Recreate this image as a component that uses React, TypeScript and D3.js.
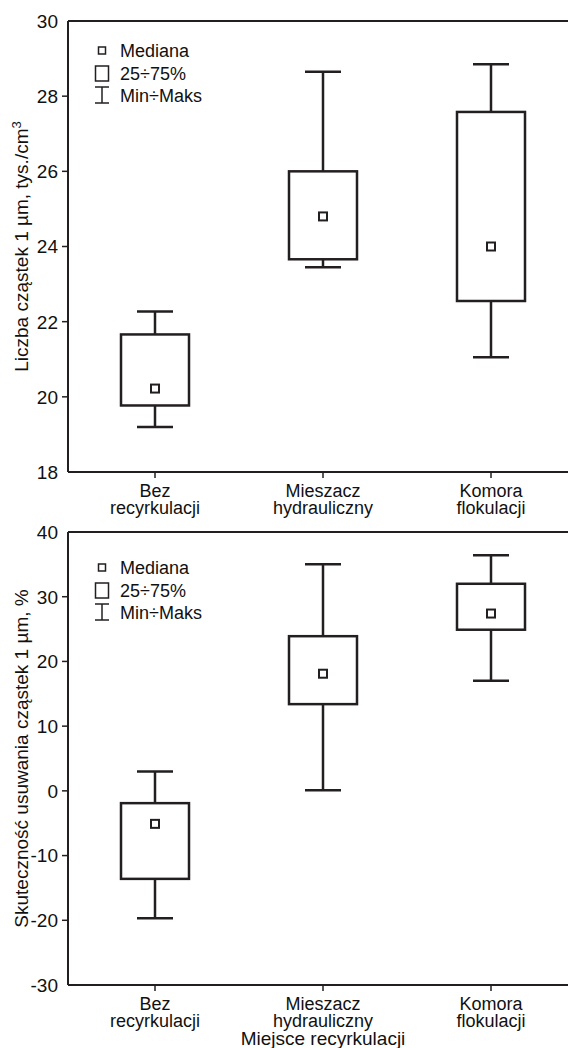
import * as d3 from "d3";

const categories = [
  ["Bez", "recyrkulacji"],
  ["Mieszacz", "hydrauliczny"],
  ["Komora", "flokulacji"],
];

// panel 1: number of 1 µm particles
const countMin = [19.2, 23.45, 21.05];
const countQ1 = [19.77, 23.66, 22.55];
const countMedian = [20.22, 24.8, 24.0];
const countQ3 = [21.66, 26.0, 27.58];
const countMax = [22.27, 28.65, 28.85];
const countTicks = [18, 20, 22, 24, 26, 28, 30];

// panel 2: removal efficiency
const effMin = [-19.7, 0.1, 17.0];
const effQ1 = [-13.6, 13.4, 24.9];
const effMedian = [-5.1, 18.1, 27.4];
const effQ3 = [-1.9, 23.9, 32.0];
const effMax = [3.0, 35.0, 36.4];
const effTicks = [-30, -20, -10, 0, 10, 20, 30, 40];

const legendLabels = ["Mediana", "25÷75%", "Min÷Maks"];

const W = 568;
const H = 1048;
const left = 68;
const ink = "#231f20";
const font = "'Liberation Sans', Arial, sans-serif";

const x = d3
  .scalePoint<number>()
  .domain([0, 1, 2])
  .range([left + 3, left + 3 + 3 * 168])
  .padding(0.5);

type PanelProps = {
  top: number;
  bottom: number;
  domain: [number, number];
  ticks: number[];
  mins: number[];
  q1: number[];
  med: number[];
  q3: number[];
  maxs: number[];
  title: React.ReactNode;
  legendY: number;
};

function Panel({ top, bottom, domain, ticks, mins, q1, med, q3, maxs, title, legendY }: PanelProps) {
  const y = d3.scaleLinear().domain(domain).range([bottom, top]);
  const boxW = 68;
  const capW = 36;
  const mid = (top + bottom) / 2;
  return (
    <g>
      {/* frame */}
      <line x1={left} x2={W} y1={top} y2={top} stroke={ink} strokeWidth={2} />
      <line x1={left} x2={W} y1={bottom} y2={bottom} stroke={ink} strokeWidth={2} />
      <line x1={left} x2={left} y1={top} y2={bottom} stroke={ink} strokeWidth={2} />

      {/* y ticks */}
      {ticks.map((t) => (
        <g key={t} transform={`translate(0,${y(t)})`}>
          {t !== domain[0] && t !== domain[1] && (
            <line x1={left - 6} x2={left} stroke={ink} strokeWidth={1.5} />
          )}
          <text x={left - 10} dy="0.36em" textAnchor="end" fontSize={19} fill="#111">
            {t}
          </text>
        </g>
      ))}

      {/* x ticks & labels */}
      {categories.map((c, i) => (
        <g key={i} transform={`translate(${x(i)},${bottom})`}>
          <line y1={0} y2={6} stroke={ink} strokeWidth={1.5} />
          <text y={25} textAnchor="middle" fontSize={18} fill="#111">
            {c[0]}
          </text>
          <text y={42} textAnchor="middle" fontSize={18} fill="#111">
            {c[1]}
          </text>
        </g>
      ))}

      {/* y title */}
      <text
        transform={`translate(28,${mid}) rotate(-90)`}
        textAnchor="middle"
        fontSize={19}
        fill="#111"
      >
        {title}
      </text>

      {/* boxes */}
      {categories.map((_, i) => {
        const cx = x(i)!;
        return (
          <g key={i} stroke={ink} strokeWidth={2.5} fill="none">
            <line x1={cx} x2={cx} y1={y(maxs[i])} y2={y(q3[i])} />
            <line x1={cx} x2={cx} y1={y(q1[i])} y2={y(mins[i])} />
            <line x1={cx - capW / 2} x2={cx + capW / 2} y1={y(maxs[i])} y2={y(maxs[i])} />
            <line x1={cx - capW / 2} x2={cx + capW / 2} y1={y(mins[i])} y2={y(mins[i])} />
            <rect x={cx - boxW / 2} y={y(q3[i])} width={boxW} height={y(q1[i]) - y(q3[i])} fill="#fff" />
            <rect x={cx - 4} y={y(med[i]) - 4} width={8} height={8} fill="#fff" strokeWidth={2} />
          </g>
        );
      })}

      {/* legend */}
      <g transform={`translate(102,${legendY})`}>
        <rect x={-3.5} y={-10} width={7} height={7} fill="#fff" stroke={ink} strokeWidth={1.5} />
        <rect x={-6.5} y={9} width={13} height={15} fill="#fff" stroke={ink} strokeWidth={1.5} />
        <g stroke={ink} strokeWidth={1.5}>
          <line x1={-7} x2={7} y1={30} y2={30} />
          <line x1={-7} x2={7} y1={46} y2={46} />
          <line x1={0} x2={0} y1={30} y2={46} />
        </g>
        {legendLabels.map((l, k) => (
          <text key={l} x={18} y={k * 22.5} fontSize={18} fill="#111">
            {l}
          </text>
        ))}
      </g>
    </g>
  );
}

export default function App() {
  return (
    <svg
      width={W}
      height={H}
      viewBox={`0 0 ${W} ${H}`}
      style={{ position: "absolute", left: 0, top: 0, background: "#fff", fontFamily: font }}
    >
      <rect width={W} height={H} fill="#fff" />
      <Panel
        top={21}
        bottom={472}
        domain={[18, 30]}
        ticks={countTicks}
        mins={countMin}
        q1={countQ1}
        med={countMedian}
        q3={countQ3}
        maxs={countMax}
        legendY={57}
        title={
          <>
            Liczba cząstek 1 µm, tys./cm<tspan dy="-7" fontSize={13}>3</tspan>
          </>
        }
      />
      <Panel
        top={532}
        bottom={985}
        domain={[-30, 40]}
        ticks={effTicks}
        mins={effMin}
        q1={effQ1}
        med={effMedian}
        q3={effQ3}
        maxs={effMax}
        legendY={574}
        title="Skuteczność usuwania cząstek 1 µm, %"
      />
      <text x={x(1)} y={1045} textAnchor="middle" fontSize={19} fill="#111">
        Miejsce recyrkulacji
      </text>
    </svg>
  );
}
